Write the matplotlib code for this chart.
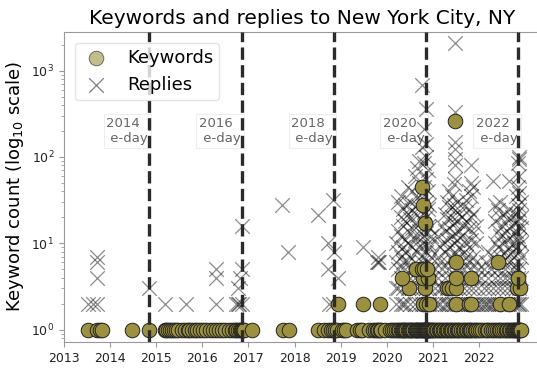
import matplotlib
matplotlib.use("Agg")
import matplotlib.pyplot as plt

# election days (decimal years) and their labels
eday_years = [2014.84, 2016.85, 2018.85, 2020.84, 2022.85]
eday_labels = ["2014\n e-day", "2016\n e-day", "2018\n e-day", "2020\n e-day", "2022\n e-day"]

# keyword counts: days with a single mention
kw_single_dates = [
    2013.52, 2013.72, 2013.78, 2013.83, 2014.48, 2014.84,
    2015.18, 2015.22, 2015.26, 2015.3, 2015.34, 2015.38, 2015.42, 2015.47, 2015.55, 2015.62,
    2015.68, 2015.72, 2015.78, 2015.83, 2015.88, 2015.95, 2016.02, 2016.08, 2016.16, 2016.24,
    2016.3, 2016.36, 2016.42, 2016.5, 2016.58, 2016.64, 2016.7, 2016.74, 2016.78, 2016.81,
    2016.84, 2016.86, 2016.88, 2016.9, 2017.08, 2017.74, 2017.87,
    2018.5, 2018.63, 2018.72, 2018.78, 2018.84, 2018.88, 2018.92, 2019.03, 2019.08, 2019.12,
    2019.35, 2019.42, 2019.47, 2019.62, 2019.7, 2019.74, 2019.78, 2019.81, 2019.84, 2019.88,
    2019.95, 2020.07, 2020.12, 2020.15, 2020.2, 2020.23, 2020.26, 2020.3, 2020.32, 2020.35,
    2020.37, 2020.4, 2020.42, 2020.45, 2020.47, 2020.5, 2020.52, 2020.55, 2020.57, 2020.6,
    2020.62, 2020.64, 2020.66, 2020.68, 2020.7, 2020.72, 2020.74, 2020.76, 2020.78, 2020.8,
    2020.81, 2020.82, 2020.83, 2020.84, 2020.85, 2020.86, 2020.87, 2020.88, 2020.9, 2020.92,
    2020.94, 2020.96, 2020.98, 2021.0, 2021.03, 2021.06, 2021.09, 2021.12, 2021.15, 2021.18,
    2021.21, 2021.24, 2021.27, 2021.3, 2021.33, 2021.36, 2021.39, 2021.42, 2021.45, 2021.48,
    2021.51, 2021.54, 2021.57, 2021.6, 2021.64, 2021.68, 2021.71, 2021.74, 2021.77, 2021.8,
    2021.83, 2021.86, 2021.9, 2021.94, 2021.98, 2022.02, 2022.07, 2022.12, 2022.16, 2022.2,
    2022.25, 2022.3, 2022.34, 2022.38, 2022.42, 2022.46, 2022.5, 2022.54, 2022.58, 2022.61,
    2022.64, 2022.67, 2022.7, 2022.73, 2022.76, 2022.78, 2022.8, 2022.82, 2022.84, 2022.85,
    2022.86, 2022.87, 2022.88, 2022.9,
]

# keyword counts: days with more than one mention
kw_multi_dates = [
    2018.93, 2019.48, 2019.85, 2020.78, 2020.85, 2020.92, 2021.5, 2021.77, 2021.82, 2022.46, 2022.64,
    2020.47, 2020.82, 2021.3, 2021.35, 2021.4, 2021.5, 2022.82, 2022.88,
    2020.32, 2020.78, 2020.88, 2021.49, 2021.82, 2022.84,
    2020.63, 2020.75, 2020.8, 2020.86, 2021.49, 2022.4,
    2020.77, 2020.78, 2020.83, 2021.48,
]
kw_multi_counts = [
    2, 2, 2, 2, 2, 2, 2, 2, 2, 2, 2,
    3, 3, 3, 3, 3, 3, 3, 3,
    4, 4, 4, 4, 4, 4,
    5, 5, 5, 5, 6, 6,
    45, 28, 17, 260,
]

# replies per day, grouped by day
rep_days_early = [2013.52, 2013.62, 2013.72, 2014.84, 2015.2, 2015.65, 2016.3, 2016.72, 2016.77,
                  2016.8, 2016.82, 2016.85, 2016.87, 2017.72, 2017.86, 2018.5, 2018.72, 2018.75,
                  2018.83, 2018.85, 2018.95, 2019.48, 2019.78, 2019.8, 2019.82]
rep_counts_early = [[2], [2], [2, 4, 6, 7], [3], [2], [2], [2, 4, 5], [2], [2, 3],
                    [2], [4], [2, 16], [5], [28], [8], [21], [10, 5], [2],
                    [32, 2], [8], [4], [9], [6], [6, 7], [6]]

rep_days_2020 = [2020.2, 2020.25, 2020.3, 2020.35, 2020.4, 2020.45, 2020.5, 2020.55, 2020.6,
                 2020.65, 2020.7, 2020.75, 2020.8, 2020.85, 2020.88, 2020.92, 2020.96]
rep_counts_2020 = [
    [2, 3, 6, 10],
    [3, 5, 8, 14, 30],
    [2, 4, 7, 12, 20, 35],
    [2, 3, 6, 9, 16, 25],
    [2, 4, 5, 8, 11, 18, 28],
    [3, 6, 10, 22, 45],
    [2, 4, 7, 13, 19, 30],
    [3, 5, 9, 15, 24, 40],
    [2, 4, 6, 11, 17, 27, 60],
    [3, 8, 12, 21, 33, 75],
    [2, 5, 9, 14, 26, 50, 90],
    [2, 3, 6, 10, 18, 38, 130, 680],
    [2, 4, 7, 12, 23, 45, 85, 210],
    [2, 3, 5, 8, 13, 20, 30, 55, 100, 140, 360],
    [2, 4, 6, 10, 16, 25, 40, 70],
    [2, 3, 5, 9, 15, 28],
    [2, 4, 7, 12],
]

rep_days_2021 = [2021.05, 2021.1, 2021.15, 2021.2, 2021.25, 2021.3, 2021.35, 2021.4, 2021.45,
                 2021.48, 2021.52, 2021.57, 2021.62, 2021.67, 2021.72, 2021.77, 2021.82,
                 2021.87, 2021.92, 2021.97]
rep_counts_2021 = [
    [2, 3, 5],
    [2, 4, 7, 12],
    [2, 3, 6, 9],
    [3, 5, 10, 16],
    [2, 4, 8, 14, 22],
    [2, 3, 6, 11, 19, 30],
    [2, 5, 9, 15, 26, 40],
    [2, 3, 7, 12, 20, 35],
    [2, 4, 6, 10, 17, 28, 48],
    [2, 3, 5, 8, 13, 24, 55, 80, 95, 125, 150, 330, 2100],
    [2, 4, 7, 11, 18, 30],
    [2, 3, 5, 9, 14, 22],
    [2, 4, 6, 12, 20],
    [2, 3, 5, 8, 16, 27],
    [2, 4, 7, 10, 18, 32],
    [2, 3, 6, 9, 15, 25, 40],
    [2, 4, 5, 11, 20, 35, 50, 80],
    [2, 3, 7, 13, 22, 45],
    [2, 4, 6, 10, 16],
    [2, 3, 5],
]

rep_days_2022 = [2022.03, 2022.1, 2022.15, 2022.2, 2022.25, 2022.3, 2022.35, 2022.4, 2022.45,
                 2022.5, 2022.55, 2022.6, 2022.65, 2022.7, 2022.75, 2022.8, 2022.83, 2022.86,
                 2022.9]
rep_counts_2022 = [
    [2, 4],
    [2, 3, 5],
    [2, 6],
    [2, 3, 4, 8],
    [2, 5],
    [2, 3, 7, 52],
    [2, 4, 6, 10, 18, 28],
    [2, 3, 5, 9, 14, 24],
    [2, 4, 7, 12, 20, 30],
    [2, 3, 6, 10, 16],
    [2, 4, 5, 8, 13, 22],
    [2, 3, 7, 11, 19],
    [2, 4, 6, 9, 15, 25, 52],
    [2, 3, 5, 8, 12, 20],
    [2, 4, 7, 10, 17],
    [2, 3, 5, 9, 14, 22, 35],
    [2, 4, 6, 12, 18, 28, 45, 85],
    [2, 3, 5, 8, 11, 16, 24, 38, 60, 95, 100],
    [2, 4, 7, 10, 15, 20, 30],
]


def flatten(days, counts):
    xs, ys = [], []
    for d, cs in zip(days, counts):
        for c in cs:
            xs.append(d)
            ys.append(c)
    return xs, ys


rep_x, rep_y = [], []
for days, counts in [(rep_days_early, rep_counts_early), (rep_days_2020, rep_counts_2020),
                     (rep_days_2021, rep_counts_2021), (rep_days_2022, rep_counts_2022)]:
    xs, ys = flatten(days, counts)
    rep_x += xs
    rep_y += ys

kw_x = kw_single_dates + kw_multi_dates
kw_y = [1] * len(kw_single_dates) + kw_multi_counts

fig = plt.figure(figsize=(5.37, 3.68), dpi=100)
ax = fig.add_axes([0.119, 0.071, 0.886, 0.842])

kw_color = "#9b9141"
ax.scatter(kw_x, kw_y, s=110, marker="o", facecolor=kw_color, edgecolor="#222222",
           linewidth=0.7, zorder=3, label="Keywords")
ax.scatter(rep_x, rep_y, s=110, marker="x", color="black", alpha=0.45,
           linewidth=0.9, zorder=2, label="Replies")

for yr, lab in zip(eday_years, eday_labels):
    ax.axvline(yr, color="#2b2b2b", linestyle="--", linewidth=2.4, zorder=4)
    ax.text(yr - 0.92, 200, lab, fontsize=9.5, color="#666666", ha="left", va="center",
            bbox=dict(facecolor="white", edgecolor="#eeeeee", linewidth=0.8, pad=2), zorder=1)

ax.set_yscale("log")
ax.set_ylim(0.72, 2800)
ax.set_xlim(2013.0, 2023.31)
ax.set_xticks(range(2013, 2023))
ax.set_xticklabels([str(y) for y in range(2013, 2023)])

for sp in ax.spines.values():
    sp.set_color("#999999")
ax.tick_params(axis="both", which="both", colors="#999999", labelcolor="#222222", labelsize=9)
ax.tick_params(axis="both", which="major", length=3.5)
ax.tick_params(axis="y", which="minor", length=2)

ax.set_ylabel("Keyword count (log$_{10}$ scale)", fontsize=13)
ax.set_title("Keywords and replies to New York City, NY", fontsize=14.5)

leg = ax.legend(loc="upper left", fontsize=13, frameon=True, borderpad=0.35,
                handletextpad=0.9, handlelength=1.6, bbox_to_anchor=(0.005, 0.995))
leg.get_frame().set_edgecolor("#dddddd")
leg.legend_handles[0].set_alpha(0.6)
leg.legend_handles[1].set_alpha(0.5)

fig.savefig("out.png", dpi=100)
